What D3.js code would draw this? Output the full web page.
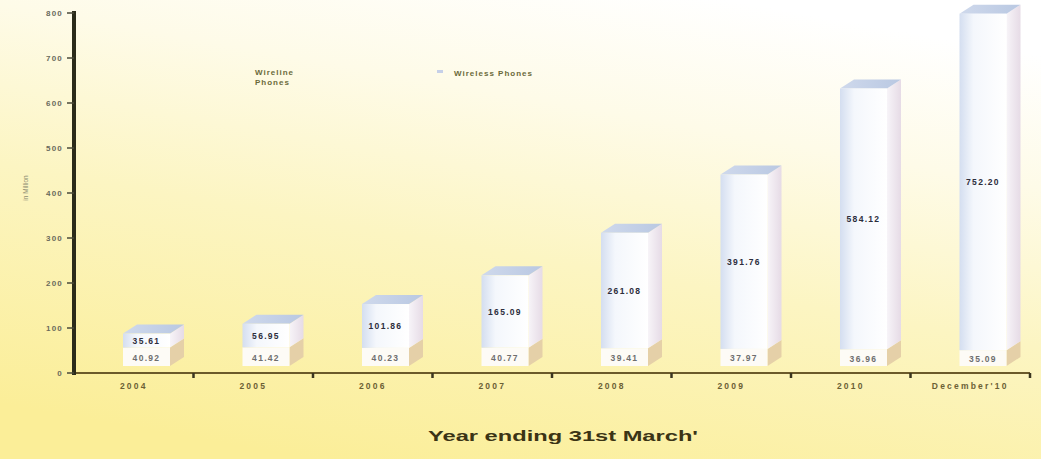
<!DOCTYPE html>
<html><head><meta charset="utf-8">
<script src="https://cdn.jsdelivr.net/npm/d3@7"></script>
<style>html,body{margin:0;padding:0;overflow:hidden;background:#fff}</style>
</head><body>
<svg id="chart" width="1041" height="459"></svg>
<script>
const categories = ["2004","2005","2006","2007","2008","2009","2010","December'10"];
const wireline = [40.92, 41.42, 40.23, 40.77, 39.41, 37.97, 36.96, 35.09];
const wireless = [35.61, 56.95, 101.86, 165.09, 261.08, 391.76, 584.12, 752.20];
const yTicks = [0,100,200,300,400,500,600,700,800];
const seriesNames = ["Wireline Phones","Wireless Phones"];

const svg = d3.select("#chart");
const defs = svg.append("defs");
const bg = defs.append("linearGradient").attr("id","bg").attr("x1","0.7").attr("y1","0").attr("x2","0.3").attr("y2","1");
bg.append("stop").attr("offset","0").attr("stop-color","#ffffff");
bg.append("stop").attr("offset","0.25").attr("stop-color","#fefbe8");
bg.append("stop").attr("offset","0.55").attr("stop-color","#fcf5c2");
bg.append("stop").attr("offset","1").attr("stop-color","#fbee98");
svg.append("rect").attr("width",1041).attr("height",459).attr("fill","url(#bg)");

const fw = defs.append("linearGradient").attr("id","frontWl").attr("x1","0").attr("x2","1").attr("y1","0").attr("y2","0");
fw.append("stop").attr("offset","0").attr("stop-color","#d4def0");
fw.append("stop").attr("offset","0.3").attr("stop-color","#f4f7fc");
fw.append("stop").attr("offset","1").attr("stop-color","#ffffff");
const tp = defs.append("linearGradient").attr("id","topWl").attr("x1","0").attr("x2","1");
tp.append("stop").attr("offset","0").attr("stop-color","#cfd9ec");
tp.append("stop").attr("offset","1").attr("stop-color","#b9c8e2");
const sd = defs.append("linearGradient").attr("id","sideWl").attr("x1","0").attr("x2","1");
sd.append("stop").attr("offset","0").attr("stop-color","#f7f4f8");
sd.append("stop").attr("offset","1").attr("stop-color","#e6dbe6");

const x = d3.scaleBand().domain(categories).range([74,1030]).padding(0);
const y = d3.scaleLinear().domain([0,800]).range([373,13]);

const FX = 49, FW = 47, DX = 14, DY = 9, LIFT = 7;

const data = categories.map((c,i)=>({c, wl: wireline[i], ws: wireless[i]}));

const g = svg.append("g");
data.forEach(d=>{
  const x0 = x(d.c) + FX;
  const yb = y(0) - LIFT;
  const ym = y(d.wl) - LIFT;
  const yt = y(d.wl + d.ws) - LIFT + 2;
  const bar = g.append("g");
  bar.append("path").attr("d",`M${x0+FW},${yb}L${x0+FW+DX},${yb-DY}L${x0+FW+DX},${ym-DY}L${x0+FW},${ym}Z`).attr("fill","#e5d0a8");
  bar.append("path").attr("d",`M${x0+FW},${ym}L${x0+FW+DX},${ym-DY}L${x0+FW+DX},${yt-DY}L${x0+FW},${yt}Z`).attr("fill","url(#sideWl)");
  bar.append("path").attr("d",`M${x0},${yt}L${x0+DX},${yt-DY}L${x0+FW+DX},${yt-DY}L${x0+FW},${yt}Z`).attr("fill","url(#topWl)");
  bar.append("rect").attr("x",x0).attr("y",ym).attr("width",FW).attr("height",yb-ym).attr("fill","#fdfbf6");
  bar.append("rect").attr("x",x0).attr("y",yt).attr("width",FW).attr("height",ym-yt).attr("fill","url(#frontWl)");
  bar.append("text").attr("x",x0+FW/2).attr("y",(yt+ym)/2+3).attr("text-anchor","middle")
    .attr("font-family","Liberation Sans, Arial, sans-serif").attr("font-weight","bold").attr("font-size",8.5)
    .attr("letter-spacing",1.3).attr("fill","#2c2d3c").text(d.ws.toFixed(2));
  bar.append("text").attr("x",x0+FW/2).attr("y",(ym+yb)/2+4).attr("text-anchor","middle")
    .attr("font-family","Liberation Sans, Arial, sans-serif").attr("font-weight","bold").attr("font-size",8.5)
    .attr("letter-spacing",1.3).attr("fill","#6e6e6e").text(d.wl.toFixed(2));
});

svg.append("line").attr("x1",74).attr("x2",1030).attr("y1",y(0)).attr("y2",y(0)).attr("stroke","#6b5a2a").attr("stroke-width",2);
const bounds = categories.map(c=>x(c)+x.bandwidth());
svg.selectAll(".xt").data(bounds).join("line").attr("x1",d=>d).attr("x2",d=>d).attr("y1",y(0)).attr("y2",y(0)+5)
  .attr("stroke","#3a3520").attr("stroke-width",2.5);
svg.selectAll(".xl").data(categories).join("text").attr("x",d=>x(d)+x.bandwidth()/2).attr("y",389)
  .attr("text-anchor","middle").attr("font-family","Liberation Sans, Arial, sans-serif").attr("font-weight","bold")
  .attr("font-size",8.5).attr("letter-spacing",2.2).attr("fill","#6b6035").text(d=>d);

svg.append("line").attr("x1",74).attr("x2",74).attr("y1",y(800)-2).attr("y2",y(0)+2).attr("stroke","#2b2b1a").attr("stroke-width",4);
svg.selectAll(".yt").data(yTicks).join("line").attr("x1",67).attr("x2",74).attr("y1",d=>y(d)).attr("y2",d=>y(d))
  .attr("stroke","#4a4a3a").attr("stroke-width",1.5);
svg.selectAll(".yl").data(yTicks).join("text").attr("x",63).attr("y",d=>y(d)+3).attr("text-anchor","end")
  .attr("font-family","Liberation Sans, Arial, sans-serif").attr("font-weight","bold").attr("font-size",8)
  .attr("letter-spacing",1.2).attr("fill","#6a6a5c").text(d=>d);

svg.append("text").attr("transform","translate(28,188) rotate(-90)").attr("text-anchor","middle")
  .attr("font-family","Liberation Sans, Arial, sans-serif").attr("font-size",6.5).attr("fill","#8a8a70").text("in Million");

const lg = svg.append("g").attr("font-family","Liberation Sans, Arial, sans-serif").attr("font-weight","bold")
  .attr("font-size",8).attr("letter-spacing",1).attr("fill","#6b6a3a");
lg.append("text").attr("x",255).attr("y",75).text("Wireline");
lg.append("text").attr("x",255).attr("y",85).text("Phones");
lg.append("rect").attr("x",437).attr("y",70).attr("width",6).attr("height",3).attr("fill","#c6d0e8");
lg.append("text").attr("x",454).attr("y",76).text(seriesNames[1]);

svg.append("text").attr("x",563).attr("y",441).attr("text-anchor","middle")
  .attr("font-family","Liberation Sans, Arial, sans-serif").attr("font-weight","bold").attr("font-size",15.5)
  .attr("textLength",270).attr("lengthAdjust","spacingAndGlyphs").attr("fill","#3b3415").text("Year ending 31st March'");
</script>
</body></html>
